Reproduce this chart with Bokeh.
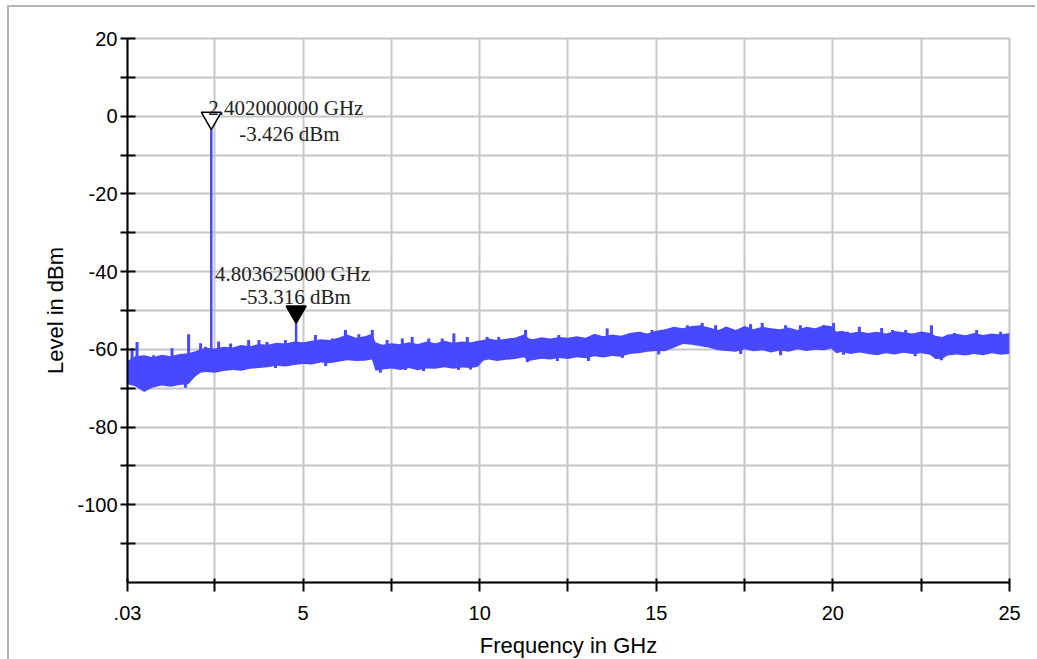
import numpy as np
from bokeh.plotting import figure
from bokeh.models import Range1d, FixedTicker
from bokeh.core.properties import value
from bokeh.embed import file_html
from bokeh.resources import INLINE

# ---------------- data ----------------
freq_ghz = [0.03, 0.25, 0.5, 0.75, 1.0, 1.25, 1.5, 1.75, 1.95, 2.1, 2.25, 2.5, 2.75,
            3.0, 3.25, 3.5, 3.75, 4.0, 4.25, 4.5, 4.75, 5.0, 5.25, 5.5, 5.75, 6.0,
            6.25, 6.5, 6.75, 6.95, 7.05, 7.25, 7.5, 7.75, 8.0, 8.25, 8.5, 8.75, 9.0,
            9.25, 9.5, 9.75, 9.95, 10.1, 10.25, 10.5, 10.75, 11.0, 11.25, 11.4, 11.5,
            11.75, 12.0, 12.25, 12.5, 12.75, 13.0, 13.25, 13.5, 13.75, 14.0, 14.25,
            14.5, 14.75, 15.0, 15.25, 15.5, 15.75, 16.0, 16.25, 16.5, 16.75, 17.0,
            17.25, 17.5, 17.75, 18.0, 18.25, 18.5, 18.75, 19.0, 19.25, 19.5, 19.75,
            19.95, 20.1, 20.25, 20.5, 20.75, 21.0, 21.25, 21.5, 21.75, 22.0, 22.25,
            22.5, 22.75, 22.9, 23.1, 23.25, 23.5, 23.75, 24.0, 24.25, 24.5, 24.75, 25.0]
upper_dbm = [-63.0, -61.8, -61.5, -62.0, -61.4, -61.8, -61.2, -61.0, -60.5, -60.0, -59.6,
             -59.8, -59.3, -59.5, -58.9, -59.2, -58.6, -58.8, -58.3, -58.5, -58.0, -58.2,
             -57.8, -57.4, -57.6, -57.0, -56.2, -57.0, -56.6, -56.0, -58.2, -58.8, -58.4,
             -58.7, -58.2, -58.6, -58.0, -58.4, -57.8, -58.3, -58.0, -58.2, -57.8, -57.6,
             -57.2, -57.6, -57.3, -57.0, -56.2, -57.2, -57.4, -56.9, -57.2, -56.8, -57.0,
             -56.6, -57.0, -56.0, -56.6, -56.2, -56.5, -55.8, -55.5, -55.9, -55.2, -54.8,
             -54.2, -54.6, -54.0, -53.8, -54.4, -55.0, -54.2, -55.0, -54.0, -54.8, -54.2,
             -54.6, -54.8, -54.4, -55.0, -54.2, -54.6, -53.8, -54.0, -55.5, -55.2, -55.8,
             -55.4, -55.8, -55.5, -55.9, -55.3, -55.6, -55.9, -55.4, -55.8, -56.5, -56.8,
             -56.2, -56.0, -56.4, -55.8, -56.3, -55.9, -56.2, -55.8]
lower_dbm = [-69.0, -69.5, -71.0, -69.8, -69.3, -69.6, -69.2, -69.0, -67.0, -66.0, -65.8,
             -66.0, -65.6, -65.3, -65.5, -65.0, -64.8, -64.6, -64.2, -64.4, -64.0, -63.8,
             -63.9, -63.4, -63.6, -63.2, -62.8, -63.0, -62.9, -62.6, -65.5, -65.2, -64.9,
             -65.3, -64.8, -65.4, -64.9, -65.0, -64.6, -65.0, -64.7, -64.8, -64.5, -62.9,
             -62.6, -63.0, -62.7, -62.5, -62.0, -63.0, -62.8, -62.4, -62.6, -62.2, -62.5,
             -62.0, -62.3, -61.8, -62.1, -61.7, -61.9, -61.2, -61.0, -60.6, -60.4, -60.5,
             -59.6, -58.6, -58.8, -59.2, -59.6, -60.2, -60.4, -60.6, -60.0, -60.5, -60.2,
             -60.8, -60.3, -60.6, -60.0, -60.4, -60.1, -60.2, -59.8, -61.0, -60.7, -61.2,
             -60.8, -61.2, -61.5, -61.0, -61.3, -60.9, -61.2, -61.0, -61.4, -62.5, -62.4,
             -61.6, -61.3, -61.6, -61.2, -61.5, -61.0, -61.4, -61.2]

# narrow peaks sticking out above the noise band
peak_freq = [0.16, 0.30, 0.77, 1.29, 1.76, 2.10, 2.24, 2.61, 2.95, 3.46, 3.75, 3.98,
             4.50, 5.35, 5.83, 6.20, 6.58, 6.96, 7.38, 7.81, 8.09, 8.56, 8.94, 9.27,
             9.65, 10.21, 10.54, 10.87, 11.30, 11.86, 12.24, 13.04, 13.61, 14.13, 14.55,
             14.88, 15.40, 15.88, 16.30, 16.68, 16.96, 17.67, 18.00, 18.66, 19.08, 19.74,
             20.02, 20.41, 20.75, 21.38, 21.69, 22.06, 22.79, 23.44, 24.07, 24.75]
peak_dbm = [-59.7, -58.1, -61.5, -59.7, -56.1, -58.4, -59.3, -58.0, -58.5, -57.6, -57.6, -58.1,
            -57.6, -56.3, -57.2, -55.0, -56.1, -55.0, -57.6, -57.2, -56.8, -57.2, -57.2, -55.9,
            -56.8, -56.8, -56.8, -57.2, -55.0, -57.2, -56.3, -57.2, -54.6, -56.3, -55.5,
            -55.0, -55.0, -53.8, -53.2, -53.8, -54.2, -53.5, -53.2, -53.8, -53.8, -53.8,
            -53.2, -55.5, -54.2, -54.5, -55.0, -55.0, -53.8, -55.8, -55.0, -55.5]
# narrow dips below the noise band
dip_freq = [1.67, 4.22, 5.64, 7.19, 7.90, 8.41, 9.40, 9.74, 11.35, 12.20, 13.08, 14.04,
            15.07, 17.39, 18.52, 20.30, 22.33, 23.07]
dip_dbm = [-69.9, -64.8, -64.3, -66.0, -65.3, -65.6, -65.3, -65.2, -63.3, -63.0, -63.0,
           -62.2, -61.3, -61.2, -61.5, -61.4, -61.8, -62.8]

# the carrier and its harmonic (marker values)
marker_freq = [2.402, 4.803625]
marker_level = [-3.426, -53.316]
marker_freq_text = ["2.402000000 GHz", "4.803625000 GHz"]
marker_level_text = ["-3.426 dBm", "-53.316 dBm"]

x_major = [0.03, 5, 10, 15, 20, 25]
x_labels = [".03", "5", "10", "15", "20", "25"]
x_minor = [2.5, 7.5, 12.5, 17.5, 22.5]
y_major = [20, 0, -20, -40, -60, -80, -100]
y_labels = ["20", "0", "-20", "-40", "-60", "-80", "-100"]
y_minor = [10, -10, -30, -50, -70, -90, -110]

# ---------------- figure ----------------
FW, FH = 882, 544
p = figure(frame_width=FW, frame_height=FH, output_backend="svg", toolbar_location=None,
           x_range=Range1d(0.03, 25), y_range=Range1d(-120, 20),
           min_border_left=118, min_border_top=31, min_border_right=26, min_border_bottom=75,
           background_fill_color="white", border_fill_color="white")
p.styles = {"margin-left": "7px", "margin-top": "5px",
            "border-left": "2px solid #b4b4b4", "border-top": "2px solid #b4b4b4",
            "border-bottom": "2px solid #b4b4b4"}
p.outline_line_color = "#c4c4c4"
p.outline_line_width = 2

for ax in (p.xaxis[0], p.yaxis[0]):
    ax.axis_line_color = "black"
    ax.axis_line_width = 2
    ax.major_tick_line_color = "black"
    ax.major_tick_line_width = 2
    ax.minor_tick_line_color = "black"
    ax.minor_tick_line_width = 2
    ax.major_label_text_font = "Liberation Sans"
    ax.major_label_text_font_size = "20px"
    ax.major_label_text_color = "black"
    ax.axis_label_text_font = "Liberation Sans"
    ax.axis_label_text_font_size = "22px"
    ax.axis_label_text_font_style = "normal"
    ax.axis_label_text_color = "black"

p.xaxis.ticker = FixedTicker(ticks=x_major, minor_ticks=x_minor)
p.xaxis.major_label_overrides = dict(zip(x_major, x_labels))
p.xaxis.major_tick_in = 4
p.xaxis.major_tick_out = 9
p.xaxis.minor_tick_in = 4
p.xaxis.minor_tick_out = 9
p.xaxis.major_label_standoff = 14
p.xaxis.axis_label = "Frequency in GHz"
p.xaxis.axis_label_standoff = 10

p.yaxis.ticker = FixedTicker(ticks=y_major, minor_ticks=y_minor)
p.yaxis.major_label_overrides = dict(zip(y_major, y_labels))
p.yaxis.major_tick_in = 8
p.yaxis.major_tick_out = 7
p.yaxis.minor_tick_in = 8
p.yaxis.minor_tick_out = 7
p.yaxis.major_label_standoff = 3
p.yaxis.axis_label = "Level in dBm"
p.yaxis.axis_label_standoff = 6

p.xgrid.ticker = FixedTicker(ticks=sorted(x_major + x_minor))
p.ygrid.ticker = FixedTicker(ticks=sorted(y_major + y_minor))
for g in (p.xgrid[0], p.ygrid[0]):
    g.grid_line_color = "#c6c6c6"
    g.grid_line_width = 2

trace_color = "#4848ff"

# noise band of the spectrum trace
p.varea(x=freq_ghz, y1=lower_dbm, y2=upper_dbm, fill_color=trace_color, fill_alpha=1.0)

# peaks and dips: drawn from inside the band outwards
mid = [(u + l) / 2 for u, l in zip(upper_dbm, lower_dbm)]
p.segment(x0=peak_freq, y0=list(np.interp(peak_freq, freq_ghz, mid)),
          x1=peak_freq, y1=peak_dbm, line_color=trace_color, line_width=3)
p.segment(x0=dip_freq, y0=list(np.interp(dip_freq, freq_ghz, mid)),
          x1=dip_freq, y1=dip_dbm, line_color=trace_color, line_width=3)
# carrier and harmonic lines
p.segment(x0=marker_freq, y0=list(np.interp(marker_freq, freq_ghz, mid)),
          x1=marker_freq, y1=marker_level, line_color=trace_color, line_width=2.5)

# markers (apex of the inverted triangle sits on the marker value)
px_per_db = FH / 140.0
tri_size = 20
apex_px = (tri_size / 2) * np.sqrt(3) * 2 / 3
marker_center = [lv + apex_px / px_per_db for lv in marker_level]
p.scatter(x=marker_freq[:1], y=marker_center[:1], marker="inverted_triangle", size=tri_size,
          fill_color="white", line_color="black", line_width=1.5)
p.scatter(x=marker_freq[1:], y=marker_center[1:], marker="inverted_triangle", size=tri_size,
          fill_color="black", line_color="black", line_width=1.5)

serif = value("Liberation Serif")
txt_kw = dict(text_font=serif, text_font_size="21px", text_color="#222222",
              text_align="left", text_baseline="alphabetic")
p.text(x=marker_freq[:1], y=marker_level[:1], text=marker_freq_text[:1],
       x_offset=-3, y_offset=-22, **txt_kw)
p.text(x=marker_freq[:1], y=marker_level[:1], text=marker_level_text[:1],
       x_offset=28, y_offset=4, **txt_kw)
p.text(x=marker_freq[1:], y=marker_level[1:], text=marker_freq_text[1:],
       x_offset=-81, y_offset=-49, **txt_kw)
p.text(x=marker_freq[1:], y=marker_level[1:], text=marker_level_text[1:],
       x_offset=-56, y_offset=-26, **txt_kw)

open("out.html", "w").write(file_html(p, INLINE))
